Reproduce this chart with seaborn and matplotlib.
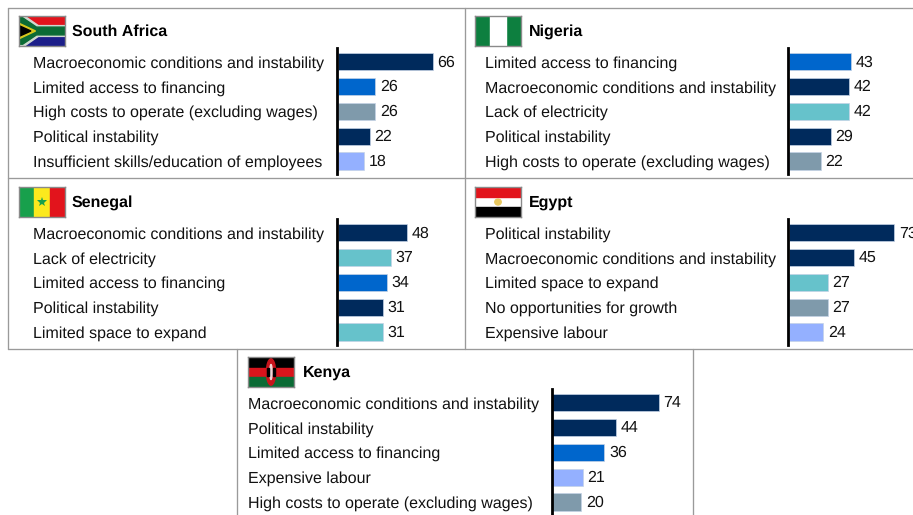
import pandas as pd
import matplotlib.pyplot as plt
from matplotlib.patches import Polygon, Rectangle, Ellipse
from matplotlib.lines import Line2D
import seaborn as sns

# 1. Data
sa_labels = ['Macroeconomic conditions and instability', 'Limited access to financing',
             'High costs to operate (excluding wages)', 'Political instability',
             'Insufficient skills/education of employees']
sa_values = [66, 26, 26, 22, 18]

ng_labels = ['Limited access to financing', 'Macroeconomic conditions and instability',
             'Lack of electricity', 'Political instability',
             'High costs to operate (excluding wages)']
ng_values = [43, 42, 42, 29, 22]

sn_labels = ['Macroeconomic conditions and instability', 'Lack of electricity',
             'Limited access to financing', 'Political instability', 'Limited space to expand']
sn_values = [48, 37, 34, 31, 31]

eg_labels = ['Political instability', 'Macroeconomic conditions and instability',
             'Limited space to expand', 'No opportunities for growth', 'Expensive labour']
eg_values = [73, 45, 27, 27, 24]

ke_labels = ['Macroeconomic conditions and instability', 'Political instability',
             'Limited access to financing', 'Expensive labour',
             'High costs to operate (excluding wages)']
ke_values = [74, 44, 36, 21, 20]

colors = {
    'Macroeconomic conditions and instability': '#002a5c',
    'Political instability': '#002a5c',
    'Limited access to financing': '#0066cc',
    'High costs to operate (excluding wages)': '#7f9aab',
    'No opportunities for growth': '#7f9aab',
    'Insufficient skills/education of employees': '#94b0ff',
    'Expensive labour': '#94b0ff',
    'Lack of electricity': '#66c2cb',
    'Limited space to expand': '#66c2cb',
}

# 2. Setup
W, H = 913, 515
sns.set_theme(style='white')
plt.rcParams['font.family'] = ['Liberation Sans', 'DejaVu Sans']
plt.rcParams['text.hinting'] = 'no_hinting'
plt.rcParams['text.hinting_factor'] = 1
fig = plt.figure(figsize=(W / 100, H / 100), dpi=100)
PX_PER_UNIT = 1.44
ROW = 24.85
FS = 11.65


def px_axes(x0, y0, x1, y1):
    return fig.add_axes([x0 / W, 1 - y1 / H, (x1 - x0) / W, (y1 - y0) / H])


def box_line(x0, y0, x1, y1):
    fig.add_artist(Line2D([x0 / W, x1 / W], [1 - y0 / H, 1 - y1 / H], color='#9a9a9a', lw=0.95))


def flag_sa(ax):
    ax.add_patch(Rectangle((0, .5), 1, .5, color='#e2141c'))
    ax.add_patch(Rectangle((0, 0), 1, .5, color='#1c1f8a'))
    ax.add_patch(Polygon([(0, 1), (.12, 1), (.42, .68), (1, .68), (1, .32), (.42, .32), (.12, 0), (0, 0)], color='#cfd8d0'))
    ax.add_patch(Polygon([(0, .94), (.08, .94), (.38, .63), (1, .63), (1, .37), (.38, .37), (.08, .06), (0, .06)], color='#0b6b35'))
    ax.add_patch(Polygon([(0, .76), (.36, .5), (0, .24)], color='#d8c81e'))
    ax.add_patch(Polygon([(0, .68), (.26, .5), (0, .32)], color='black'))


def flag_ng(ax):
    ax.add_patch(Rectangle((0, 0), 1, 1, color='#0d7f3f'))
    ax.add_patch(Rectangle((1 / 3, 0), 1 / 3, 1, color='white'))


def flag_sn(ax):
    ax.add_patch(Rectangle((0, 0), 1 / 3, 1, color='#18a04c'))
    ax.add_patch(Rectangle((1 / 3, 0), 1 / 3, 1, color='#fbe91e'))
    ax.add_patch(Rectangle((2 / 3, 0), 1 / 3, 1, color='#e2141c'))
    ax.plot([.5], [.5], marker='*', ms=7, color='#18a04c', mew=0)


def flag_eg(ax):
    ax.add_patch(Rectangle((0, 2 / 3), 1, 1 / 3, color='#e2141c'))
    ax.add_patch(Rectangle((0, 0), 1, 1 / 3, color='black'))
    ax.add_patch(Ellipse((.5, .5), .14, .2, color='#e8c860'))


def flag_ke(ax):
    ax.add_patch(Rectangle((0, .68), 1, .32, color='black'))
    ax.add_patch(Rectangle((0, .36), 1, .28, color='#d9141c'))
    ax.add_patch(Rectangle((0, 0), 1, .32, color='#0b6b35'))
    ax.add_patch(Ellipse((.5, .5), .2, .88, color='#c8141c'))
    ax.add_patch(Ellipse((.5, .5), .05, .5, color='#f0d8d8'))
    ax.add_patch(Rectangle((.41, .38), .04, .24, color='black'))
    ax.add_patch(Rectangle((.55, .38), .04, .24, color='black'))


def panel(name, labels, values, draw_flag, flag_x, label_x, line_x, title_x, top):
    # flag
    fa = px_axes(flag_x, top + 8, flag_x + 46, top + 38)
    fa.set_xlim(0, 1)
    fa.set_ylim(0, 1)
    fa.set_xticks([])
    fa.set_yticks([])
    draw_flag(fa)
    for s in fa.spines.values():
        s.set_color('#8a8a8a')
        s.set_linewidth(1.0)
    fig.text(title_x / W, 1 - (top + 24) / H, name, fontsize=FS, fontweight='bold',
             color='black', va='center', ha='left')

    # bars
    y0, y1 = top + 40, top + 166
    ax = px_axes(line_x, y0, W, y1)
    df = pd.DataFrame({'issue': labels, 'score': values})
    sns.barplot(data=df, x='score', y='issue', hue='issue', palette=colors, legend=False,
                dodge=False, width=0.69, saturation=1, edgecolor='#c4d2e6', linewidth=0.5, ax=ax)
    ax.patch.set_alpha(0)
    ax.set_xlim(-0.6, (W - line_x) / PX_PER_UNIT - 0.6)
    ax.set_ylim(4 + 13 / ROW, -13.6 / ROW)
    ax.set_xlabel('')
    ax.set_ylabel('')
    ax.set_xticks([])
    ax.tick_params(axis='y', length=0, pad=(line_x - label_x) * 0.72, labelsize=FS, labelcolor='#111111')
    for t in ax.get_yticklabels():
        t.set_ha('left')
    for c in ax.containers:
        for t in ax.bar_label(c, fmt='%g', padding=3.4, fontsize=FS, color='#111111', clip_on=False):
            t.xyann = (3.4, -0.5)
    sns.despine(ax=ax, top=True, right=True, bottom=True)
    ax.spines['left'].set_color('black')
    ax.spines['left'].set_linewidth(2)


# 3. Panels
panel('South Africa', sa_labels, sa_values, flag_sa, 19, 33, 337, 72, 8)
panel('Nigeria', ng_labels, ng_values, flag_ng, 475, 485, 788, 529, 8)
panel('Senegal', sn_labels, sn_values, flag_sn, 19, 33, 337, 72, 179)
panel('Egypt', eg_labels, eg_values, flag_eg, 475, 485, 788, 529, 179)
panel('Kenya', ke_labels, ke_values, flag_ke, 248, 248, 551.5, 302.5, 349)

# 4. Box lines
box_line(8, 8, W, 8)
box_line(8, 178, W, 178)
box_line(8, 349, W, 349)
box_line(8, 8, 8, 349)
box_line(465, 8, 465, 349)
box_line(237, 349, 237, H)
box_line(693, 349, 693, H)

# 5. Save
plt.savefig('out.png', dpi=100)
